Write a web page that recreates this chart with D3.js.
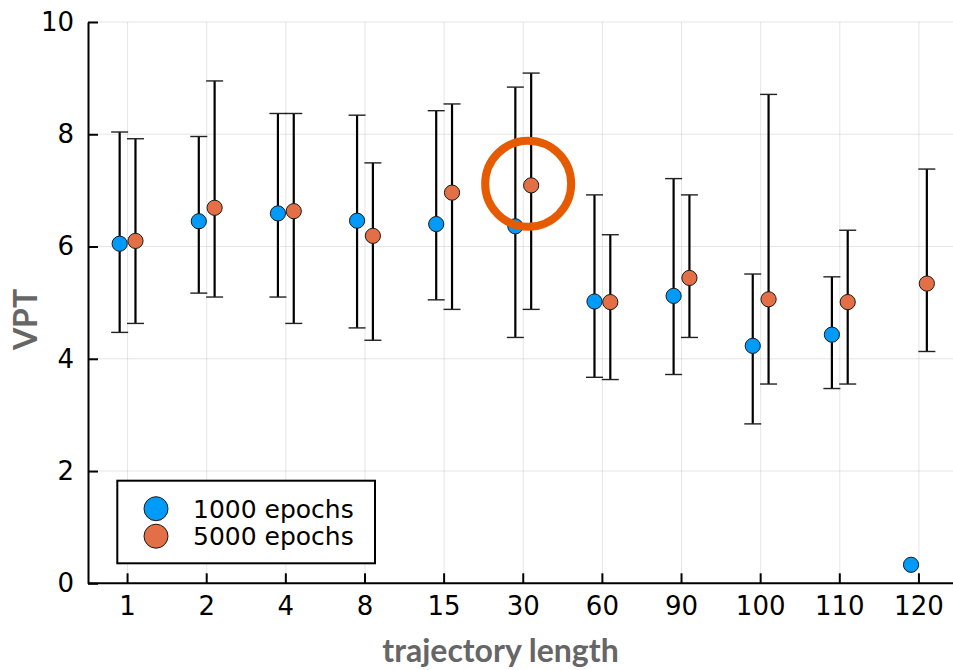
<!DOCTYPE html>
<html>
<head>
<meta charset="utf-8">
<script src="https://cdn.jsdelivr.net/npm/d3@7"></script>
<style>
  html, body { margin: 0; padding: 0; background: #fff; }
  svg { display: block; }
</style>
</head>
<body>
<svg id="chart" width="953" height="670"></svg>
<script>
// Trajectory lengths (categorical x axis)
const categories = ["1", "2", "4", "8", "15", "30", "60", "90", "100", "110", "120"];

// VPT for the model trained 1000 epochs: mean, lower and upper error bounds
const mean1000 = [6.05, 6.45, 6.59, 6.46, 6.40, 6.36, 5.02, 5.12, 4.23, 4.43, 0.33];
const lo1000   = [4.47, 5.17, 5.10, 4.55, 5.05, 4.38, 3.67, 3.72, 2.84, 3.47, null];
const hi1000   = [8.04, 7.96, 8.37, 8.34, 8.42, 8.84, 6.92, 7.21, 5.51, 5.46, null];

// VPT for the model trained 5000 epochs
const mean5000 = [6.10, 6.69, 6.63, 6.19, 6.96, 7.09, 5.01, 5.44, 5.06, 5.01, 5.34];
const lo5000   = [4.63, 5.10, 4.63, 4.33, 4.88, 4.88, 3.63, 4.38, 3.55, 3.55, 4.13];
const hi5000   = [7.92, 8.95, 8.37, 7.49, 8.54, 9.09, 6.21, 6.92, 8.71, 6.29, 7.38];

const yTicks = [0, 2, 4, 6, 8, 10];
const seriesNames = ["1000 epochs", "5000 epochs"];
const highlightCategory = "30";

const colors = ["#009af9", "#e26f46"];

const svg = d3.select("#chart");
const plotLeft = 88, plotRight = 958.5, plotTop = 22, plotBottom = 583.3;

const x = d3.scaleBand().domain(categories).range([plotLeft, plotRight]).padding(0);
const y = d3.scaleLinear().domain([0, 10]).range([plotBottom, plotTop]);
const cx = c => x(c) + x.bandwidth() / 2;
const dodge = x.bandwidth() * 0.1;

const series = [
  { name: seriesNames[0], mean: mean1000, lo: lo1000, hi: hi1000, color: colors[0], off: -dodge },
  { name: seriesNames[1], mean: mean5000, lo: lo5000, hi: hi5000, color: colors[1], off: dodge }
];

// grid
const grid = svg.append("g");
grid.selectAll("line.gx").data(categories).join("line")
  .attr("x1", d => cx(d)).attr("x2", d => cx(d))
  .attr("y1", plotTop).attr("y2", plotBottom)
  .attr("stroke", "#000").attr("stroke-opacity", 0.1).attr("stroke-width", 1);
grid.selectAll("line.gy").data(yTicks).join("line")
  .attr("x1", plotLeft).attr("x2", 953)
  .attr("y1", d => y(d)).attr("y2", d => y(d))
  .attr("stroke", "#000").attr("stroke-opacity", 0.1).attr("stroke-width", 1);

// axes
const fontTick = "'DejaVu Sans', sans-serif";
const xAxis = svg.append("g").attr("transform", `translate(0,${plotBottom})`)
  .call(d3.axisBottom(x).tickSizeInner(-10).tickSizeOuter(0).tickPadding(13));
const yAxis = svg.append("g").attr("transform", `translate(${plotLeft},0)`)
  .call(d3.axisLeft(y).tickValues(yTicks).tickSizeInner(-10).tickSizeOuter(0).tickPadding(14));
[xAxis, yAxis].forEach(a => {
  a.select(".domain").attr("stroke", "#000").attr("stroke-width", 2);
  a.selectAll(".tick line").attr("stroke", "#000").attr("stroke-width", 2);
  a.selectAll(".tick text").attr("font-family", fontTick).attr("font-size", 26).attr("fill", "#000");
});
xAxis.select(".domain").attr("d", `M${plotLeft},0H953`);

// error bars and markers
const capHalf = 8.5;
series.forEach(s => {
  const g = svg.append("g");
  const rows = categories.map((c, i) => ({ c, m: s.mean[i], lo: s.lo[i], hi: s.hi[i] }));
  const eb = rows.filter(r => r.lo != null && r.hi != null);
  g.selectAll("line.v").data(eb).join("line")
    .attr("x1", r => cx(r.c) + s.off).attr("x2", r => cx(r.c) + s.off)
    .attr("y1", r => y(r.lo)).attr("y2", r => y(r.hi))
    .attr("stroke", "#000").attr("stroke-width", 2.2);
  ["lo", "hi"].forEach(k => {
    g.selectAll("line.cap" + k).data(eb).join("line")
      .attr("x1", r => cx(r.c) + s.off - capHalf).attr("x2", r => cx(r.c) + s.off + capHalf)
      .attr("y1", r => y(r[k])).attr("y2", r => y(r[k]))
      .attr("stroke", "#222").attr("stroke-width", 1.4);
  });
  s.rows = rows;
});
series.forEach(s => {
  svg.append("g").selectAll("circle").data(s.rows).join("circle")
    .attr("cx", r => cx(r.c) + s.off).attr("cy", r => y(r.m)).attr("r", 7.6)
    .attr("fill", s.color).attr("stroke", "#1a1a1a").attr("stroke-width", 1);
});

// highlight ring on the 5000-epoch point at trajectory length 30
const hIdx = categories.indexOf(highlightCategory);
svg.append("circle")
  .attr("cx", cx(highlightCategory) + dodge - 3).attr("cy", y(mean5000[hIdx]) - 1.5)
  .attr("r", 43).attr("fill", "none").attr("stroke", "#e65a00").attr("stroke-width", 8);

// axis titles
svg.append("text").attr("x", 500.5).attr("y", 662).attr("text-anchor", "middle")
  .attr("font-family", "Lato, sans-serif").attr("font-weight", 700).attr("font-size", 32)
  .attr("fill", "#666").text("trajectory length");
svg.append("text").attr("transform", "translate(37,319.5) rotate(-90)")
  .attr("text-anchor", "middle")
  .attr("font-family", "Lato, sans-serif").attr("font-weight", 700).attr("font-size", 32)
  .attr("fill", "#666").text("VPT");

// legend
const lg = svg.append("g");
lg.append("rect").attr("x", 117.3).attr("y", 480.7).attr("width", 257.7).attr("height", 82.6)
  .attr("fill", "#fff").attr("stroke", "#000").attr("stroke-width", 2);
series.forEach((s, i) => {
  const ly = 508.7 + i * 27.5;
  lg.append("circle").attr("cx", 156).attr("cy", ly).attr("r", 12)
    .attr("fill", s.color).attr("stroke", "#1a1a1a").attr("stroke-width", 1);
  lg.append("text").attr("x", 193).attr("y", ly).attr("dy", "0.36em")
    .attr("font-family", fontTick).attr("font-size", 25).attr("fill", "#000").text(s.name);
});
</script>
</body>
</html>
